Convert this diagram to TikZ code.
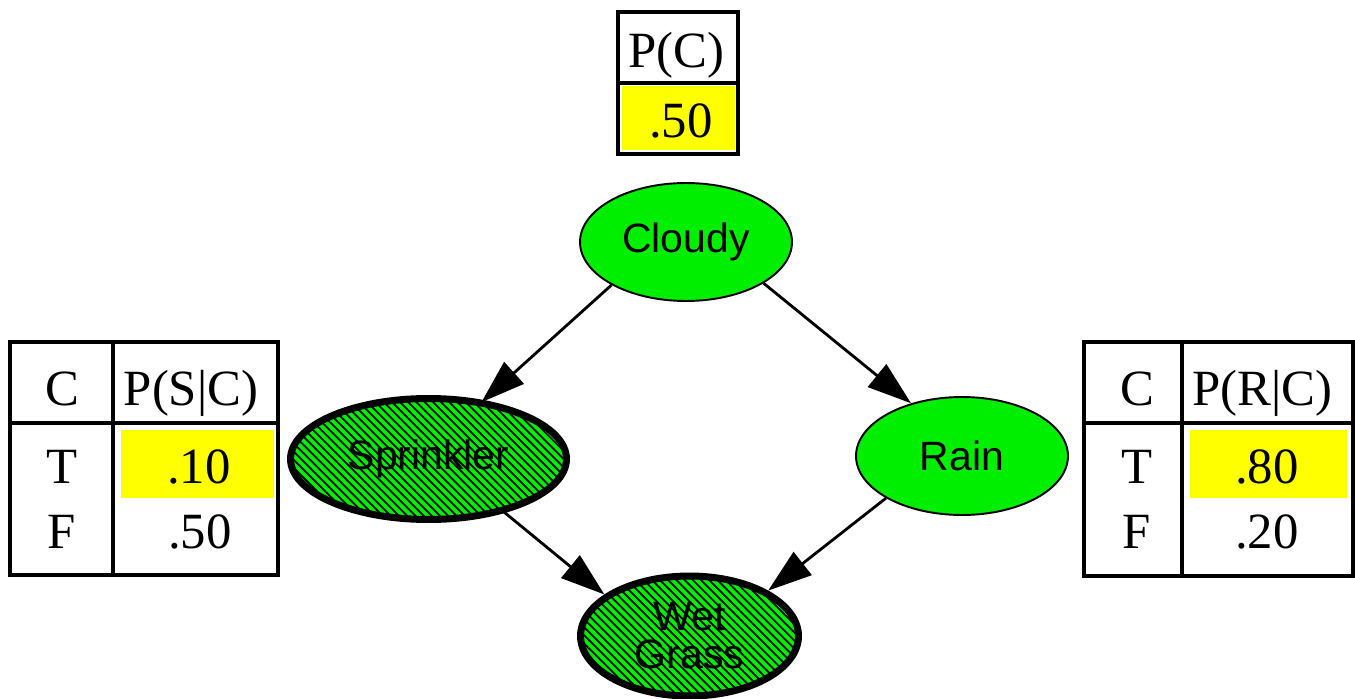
\documentclass[tikz,border=0pt]{standalone}
\usepackage{fontspec}
\setmainfont{Liberation Serif}
\newfontfamily\varfont{Liberation Sans}
\usetikzlibrary{shapes.geometric,arrows.meta,patterns.meta}
\definecolor{vargreen}{RGB}{0,238,0}
\definecolor{cptyellow}{RGB}{255,255,0}
\tikzset{
  var/.style={ellipse,draw,fill=vargreen,line width=1.1pt,inner sep=0pt,align=center,
    font=\varfont\fontsize{23.3}{21.6}\selectfont},
  evidence/.style={var,line width=0.14cm,preaction={fill=vargreen},
    pattern={Lines[angle=-45,distance=3.3pt,line width=1pt]}},
  cell/.style={draw,line width=0.065cm,inner sep=0pt},
  hit/.style={fill=cptyellow,inner sep=0pt},
  entry/.style={anchor=base,inner sep=0pt,font=\fontsize{28.9}{34}\selectfont}
}
\begin{document}
\begin{tikzpicture}[x=0.02cm,y=-0.02cm,>={Triangle[length=0.88cm,width=0.58cm]}]
 \useasboundingbox (0,0) rectangle (1355,699);
 % the network
 \node[var,minimum width=4.24cm,minimum height=2.36cm] (cloudy) at (686,242) {Cloudy};
 \node[evidence,minimum width=5.52cm,minimum height=2.42cm] (sprinkler) at (428.5,459) {Sprinkler};
 \node[var,minimum width=4.24cm,minimum height=2.36cm] (rain) at (962,456) {Rain};
 \node[evidence,minimum width=4.36cm,minimum height=2.4cm] (wet) at (689.5,636) {Wet\\Grass};
    \draw [->, ultra thick] (cloudy.210.5) -- (sprinkler.47);
    \draw [->, ultra thick] (cloudy.332) -- (rain.134.5);
    \draw [->, ultra thick] (sprinkler.325) -- (wet.154);
    \draw [->, ultra thick] (rain.209.5) -- (wet.30);
 % P(C)
 \node[cell,minimum width=2.4cm,minimum height=1.42cm] (pc head) at (678,47.5) {};
 \node[cell,minimum width=2.4cm,minimum height=1.42cm] (pc body) at (678,118.5) {};
 \node[hit,minimum width=2.26cm,minimum height=1.28cm] (pc yes) at (678.5,118) {};
 \node[entry] (pc label) at (676,68) {P(C)};
 \node[entry] (pc t) at (681,138) {.50};
 % P(S|C)
 \node[cell,minimum width=2.06cm,minimum height=1.62cm] (sc head) at (61.5,382.5) {};
 \node[cell,minimum width=3.3cm,minimum height=1.62cm] (sp head) at (195.5,382.5) {};
 \node[cell,minimum width=2.06cm,minimum height=3.04cm] (sc body) at (61.5,499) {};
 \node[cell,minimum width=3.3cm,minimum height=3.04cm] (sp body) at (195.5,499) {};
 \node[hit,minimum width=3.06cm,minimum height=1.36cm] (sp yes) at (197.5,464) {};
 \node[entry] (sc label) at (62,405) {C};
 \node[entry] (sp label) at (191,405) {P(S|C)};
 \node[entry] (sc t) at (62,483) {T};
 \node[entry] (sc f) at (62,548) {F};
 \node[entry] (sp t) at (199,483) {.10};
 \node[entry] (sp f) at (200,548) {.50};
 % P(R|C)
 \node[cell,minimum width=1.96cm,minimum height=1.62cm] (rc head) at (1133,382.5) {};
 \node[cell,minimum width=3.42cm,minimum height=1.62cm] (rp head) at (1267.5,382.5) {};
 \node[cell,minimum width=1.96cm,minimum height=3.06cm] (rc body) at (1133,499.5) {};
 \node[cell,minimum width=3.42cm,minimum height=3.06cm] (rp body) at (1267.5,499.5) {};
 \node[hit,minimum width=3.14cm,minimum height=1.36cm] (rp yes) at (1268.5,464) {};
 \node[entry] (rc label) at (1137,405) {C};
 \node[entry] (rp label) at (1262,405) {P(R|C)};
 \node[entry] (rc t) at (1137,483) {T};
 \node[entry] (rc f) at (1137,548) {F};
 \node[entry] (rp t) at (1267,483) {.80};
 \node[entry] (rp f) at (1267,548) {.20};
\end{tikzpicture}
\end{document}
